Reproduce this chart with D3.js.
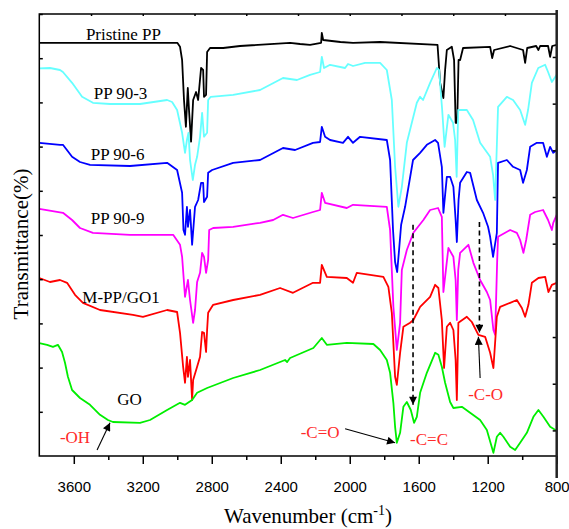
<!DOCTYPE html>
<html>
<head>
<meta charset="utf-8">
<script src="https://cdn.jsdelivr.net/npm/d3@7"></script>
<style>
  body { margin: 0; background: #fff; }
  svg { display: block; }
</style>
</head>
<body>
<svg id="chart" width="569" height="529"></svg>
<script>
// axis ticks (wavenumber, cm-1)
const majorTicks = [3600, 3200, 2800, 2400, 2000, 1600, 1200, 800];
const minorTicks = [3400, 3000, 2600, 2200, 1800, 1400, 1000];
const topTicks = [3500, 3200, 2900, 2600, 2300, 2000, 1700, 1400, 1100];

// spectra: [wavenumber, transmittance (offset, a.u.)]
const pristinePP = [
  [3800,103.3],[3000,103.3],[2984,102.3],[2972,99],[2961,89],[2950,82.3],[2939,92],[2932,86.5],
  [2920,78.6],[2908,89],[2891,91],[2879,89],[2862,97],[2850,96.5],[2845,89.8],[2833,90.3],
  [2827,101],[2810,102],[2734,102],[2636,102.5],[2346,103.3],[2288,103],[2230,102.8],[2166,103.3],
  [2162,105.8],[2154,104],[2054,103.5],[1981,103.3],[1824,103.5],[1491,102.8],[1476,93.3],[1457,89.5],
  [1447,96.5],[1437,101.5],[1408,102.3],[1395,99],[1386,83.3],[1377,83.3],[1369,99],[1360,99],
  [1343,102],[1186,102.3],[1174,99.5],[1163,101.5],[1070,102.5],[995,101.5],[983,98.3],[971,102],
  [919,102.5],[906,101.5],[896,102.5],[850,102.5],[838,99.8],[826,102.5],[800,102.8]
];
const pp903 = [
  [3800,96.9],[3738,97],[3680,96.5],[3663,96],[3610,93.3],[3552,89.8],[3489,88.3],[3390,88],
  [3216,88],[3059,89],[3030,88.5],[3001,86.5],[2972,80.8],[2955,75.8],[2944,79],[2935,80.8],
  [2926,74],[2910,69],[2897,72.8],[2885,74.8],[2868,79.8],[2856,85.8],[2845,79.8],[2827,80.8],
  [2821,89],[2806,89.8],[2676,90.3],[2520,91.5],[2387,94.5],[2306,94],[2230,95.3],[2172,96],
  [2162,99.8],[2149,97],[2114,97.8],[2027,97],[2010,98],[1981,97.5],[1911,98.3],[1824,98.3],
  [1785,96.5],[1756,89],[1737,72.3],[1718,62.3],[1698,67.3],[1669,78.3],[1611,88.3],[1592,89.8],
  [1575,89],[1534,93.3],[1495,97],[1482,96.5],[1464,86.5],[1450,77.3],[1428,85.3],[1401,83.3],
  [1389,79],[1380,69.8],[1371,86.5],[1321,86.5],[1285,84],[1244,78.3],[1186,74.8],[1169,70.3],
  [1157,64],[1140,87.3],[1089,89.8],[1053,89],[1012,86.5],[983,82.8],[966,86.5],[944,93.3],
  [907,97],[867,97.8],[850,96],[828,93.5],[800,95.3]
];
const pp906 = [
  [3800,78.3],[3680,77.8],[3663,77.8],[3610,74.8],[3564,73.5],[3506,72.8],[3274,72.5],[3059,73.3],
  [3001,71.5],[2972,65.8],[2964,56.5],[2955,55.3],[2944,62.3],[2938,57.3],[2926,61.5],[2914,52.8],
  [2897,62.3],[2879,64],[2862,68.3],[2850,68.3],[2845,63.5],[2827,64.8],[2821,70.8],[2798,71.5],
  [2676,73.3],[2520,74],[2387,77],[2317,76.5],[2213,78.3],[2172,78.5],[2162,82.3],[2143,79.8],
  [2114,79],[2039,78.3],[2010,79.8],[1981,78.3],[1940,79.8],[1785,79],[1766,74],[1749,56.5],
  [1737,48.5],[1725,46],[1714,51.5],[1702,57.8],[1679,62.3],[1633,74],[1592,75.8],[1553,77.8],
  [1505,79],[1488,78.3],[1466,72.3],[1457,60.8],[1437,69.8],[1418,69.8],[1399,67.3],[1386,59],
  [1379,53.5],[1369,64],[1360,68.3],[1321,71],[1302,70.8],[1263,64],[1227,60.8],[1198,57.3],
  [1186,54.8],[1169,49.8],[1147,55.8],[1140,73.3],[1089,74],[1053,72.3],[1012,71.5],[995,68.3],
  [973,71.5],[954,77.3],[915,78.3],[879,78.3],[857,74.8],[838,77.3],[820,75.8],[800,76.5]
];
const pp909 = [
  [3800,61.8],[3663,60.8],[3610,59],[3564,57],[3489,55.8],[3274,55.3],[3024,55.3],[2984,52.8],
  [2972,49.8],[2955,39.8],[2938,44],[2926,39],[2908,33.3],[2897,36.5],[2885,43.5],[2868,45.8],
  [2856,50.8],[2845,49.8],[2833,45.8],[2821,49],[2815,56.5],[2792,57],[2676,57.3],[2520,58.3],
  [2444,59],[2387,60.3],[2329,59.5],[2213,61],[2172,61.5],[2162,65.8],[2143,63.3],[2017,62],
  [1981,62.8],[1785,62.3],[1766,56.5],[1747,37.3],[1727,26.5],[1708,33.3],[1698,46.5],[1669,51.5],
  [1631,55.8],[1573,59],[1534,61.5],[1488,62],[1466,59.8],[1457,41],[1428,52],[1399,49.8],
  [1386,44],[1379,34],[1371,46.5],[1360,50.8],[1312,52.8],[1283,48.3],[1244,44],[1205,41],
  [1186,39],[1167,31.5],[1157,30.3],[1145,49],[1140,54.8],[1070,56.5],[1031,55.8],[1012,54],
  [993,50.8],[977,54],[954,60.3],[925,61],[879,61.5],[850,59],[828,56.5],[820,58.3],[800,60.3]
];
const mppGO1 = [
  [3800,44.5],[3738,43.5],[3680,44],[3639,43.3],[3593,40.3],[3547,38.3],[3448,36.5],[3257,35.3],
  [3199,34.8],[3059,36.5],[3001,36],[2984,30.8],[2966,22.3],[2955,18.3],[2944,24.8],[2938,19.8],
  [2926,24],[2914,14],[2908,19],[2885,22.3],[2868,24.8],[2856,31],[2845,30.8],[2833,26],
  [2827,31.5],[2821,35.8],[2792,37.8],[2676,39],[2520,40.3],[2404,42],[2329,40.8],[2213,43.3],
  [2172,43.3],[2162,47.8],[2133,44.8],[2017,44.5],[1981,43.3],[1959,45.8],[1805,44.8],[1776,42.3],
  [1756,35.8],[1737,19.8],[1727,17.8],[1708,25.8],[1689,32.3],[1650,33.3],[1631,34],[1592,37.3],
  [1534,39.8],[1505,42.8],[1486,42],[1466,34],[1453,22],[1437,32.3],[1418,33.3],[1399,31.5],
  [1386,24],[1379,14],[1370,33.3],[1321,34.8],[1292,33.5],[1254,30.3],[1215,29.8],[1186,25.8],
  [1167,22],[1147,34.8],[1128,37.3],[1070,38.3],[1031,39],[1002,37],[983,34.8],[964,37.8],
  [944,43.3],[906,44.5],[867,44.8],[848,41],[828,42.8],[800,43.3]
];
const go = [
  [3800,28.2],[3755,27.8],[3721,27.3],[3692,27.8],[3668,26],[3651,23.3],[3634,19.8],[3610,16.5],
  [3564,14.5],[3506,12.8],[3448,10.3],[3402,9],[3373,8.5],[3216,8.3],[3158,9],[3059,11.5],
  [2984,13.3],[2955,12.8],[2938,13.3],[2914,14],[2885,15.8],[2827,17],[2676,19.5],[2520,21.5],
  [2404,23.5],[2375,24],[2363,23.5],[2346,24.5],[2211,27],[2162,29.5],[2133,27.8],[2017,28.3],
  [1863,28],[1824,26.5],[1785,24],[1766,20.8],[1747,13.3],[1737,7.3],[1727,3.3],[1708,5.8],
  [1689,12.3],[1669,13.5],[1646,11.5],[1627,8.3],[1611,9.8],[1592,15.8],[1553,20.8],[1505,25.8],
  [1486,25.3],[1466,22.3],[1447,18.3],[1418,13.5],[1399,12],[1350,12.3],[1302,10.8],[1244,9],
  [1205,6.5],[1167,0.8],[1147,4.8],[1128,5.8],[1109,4.8],[1070,2.3],[1041,1.5],[1012,3.3],
  [973,5.8],[935,9.8],[906,11.5],[877,9.8],[838,7.3],[800,6.3]
];

const seriesNames = ["Pristine PP", "PP 90-3", "PP 90-6", "PP 90-9", "M-PP/GO1", "GO"];
const seriesData = [pristinePP, pp903, pp906, pp909, mppGO1, go];
const seriesColors = ["#000000", "#66ffff", "#0000ff", "#ff00ff", "#ff0000", "#00ee00"];
// label anchor [wavenumber, value] for each series name
const seriesLabelAt = [[3312,104], [3329,89.3], [3346,74], [3346,58], [3326,38.3], [3277,12.8]];

// peak assignments
const peakLabels = ["-OH", "-C=O", "-C=C", "-C-O"];
const peakLabelAt = [[3593,3.3], [2172,4.5], [1540,2.8], [1212,14]];
const solidArrows = [[[3465,1.5],[3390,8.3]], [[2027,6.8],[1737,3.3]], [[1244,19.5],[1254,29.8]]];
const dashedArrows = [[[1633,57.8],[1633,12.8]], [[1248,58.5],[1248,30.8]]];

const svg = d3.select("#chart");
const mLeft = 39.3, mRight = 556.7, mTop = 14, mBottom = 456;

const x = d3.scaleLinear().domain([3800, 800]).range([mLeft, mRight]);
const y = d3.scaleLinear().domain([0, 110.5]).range([mBottom, mTop]);

const defs = svg.append("defs");
defs.append("marker")
  .attr("id", "head")
  .attr("viewBox", "0 0 10 10")
  .attr("refX", 10).attr("refY", 5)
  .attr("markerUnits", "userSpaceOnUse")
  .attr("markerWidth", 10).attr("markerHeight", 8)
  .attr("orient", "auto")
  .append("path").attr("d", "M0,0 L10,5 L0,10 z").attr("fill", "#000");

defs.append("clipPath").attr("id", "plot-clip")
  .append("rect").attr("x", mLeft).attr("y", mTop).attr("width", mRight - mLeft).attr("height", mBottom - mTop);

// spectra
const line = d3.line().x(d => x(d[0])).y(d => y(d[1]));
svg.append("g").attr("clip-path", "url(#plot-clip)")
  .selectAll("path").data(seriesData).join("path")
  .attr("d", line)
  .attr("fill", "none")
  .attr("stroke", (d, i) => seriesColors[i])
  .attr("stroke-width", 1.8)
  .attr("stroke-linejoin", "round");

// axes
const fmt = d3.format("d");
const gx = svg.append("g").attr("transform", `translate(0,${mBottom})`)
  .call(d3.axisBottom(x).tickValues(majorTicks).tickSize(8).tickPadding(17).tickFormat(fmt));
gx.selectAll("text").attr("font-family", "'Liberation Sans', Arial, sans-serif").attr("font-size", 15).attr("fill", "#000");
svg.append("g").attr("transform", `translate(0,${mBottom})`)
  .call(d3.axisBottom(x).tickValues(minorTicks).tickSize(4).tickFormat(""));
svg.append("g").attr("transform", `translate(0,${mTop})`)
  .call(d3.axisTop(x).tickValues(topTicks).tickSize(-2).tickFormat(""));
svg.append("g").attr("transform", `translate(${mLeft},0)`)
  .call(d3.axisLeft(y).tickValues(d3.range(1, 11).map(k => k * 11.05)).tickSize(-3.5).tickFormat(""));
svg.append("g").attr("transform", `translate(${mRight},0)`)
  .call(d3.axisRight(y).tickValues(d3.range(0, 9).map(k => 6.4 + k * 11.67)).tickSize(-4).tickFormat(""));
svg.selectAll(".domain").remove();
svg.selectAll(".tick line").attr("stroke", "#000").attr("stroke-width", 1.5);

// frame
svg.append("path")
  .attr("d", `M${mRight},${mTop}H${mLeft}V${mBottom}H${mRight}`)
  .attr("fill", "none").attr("stroke", "#000").attr("stroke-width", 1.5);
svg.append("line")
  .attr("x1", mRight).attr("x2", mRight).attr("y1", mTop - 4).attr("y2", mBottom + 22)
  .attr("stroke", "#222").attr("stroke-width", 2.5);

// axis titles
const xt = svg.append("text")
  .attr("x", 308).attr("y", 523).attr("text-anchor", "middle")
  .attr("font-family", "'Liberation Serif', 'Times New Roman', serif").attr("font-size", 21);
xt.append("tspan").text("Wavenumber (cm");
xt.append("tspan").attr("dy", -8).attr("font-size", 14).text("-1");
xt.append("tspan").attr("dy", 8).text(")");

svg.append("text")
  .attr("transform", "translate(28,244) rotate(-90)")
  .attr("text-anchor", "middle")
  .attr("font-family", "'Liberation Serif', 'Times New Roman', serif").attr("font-size", 21)
  .text("Transmittance(%)");

// series labels
svg.append("g").selectAll("text").data(seriesNames).join("text")
  .attr("x", (d, i) => x(seriesLabelAt[i][0]))
  .attr("y", (d, i) => y(seriesLabelAt[i][1]))
  .attr("text-anchor", "middle")
  .attr("font-family", "'Liberation Serif', 'Times New Roman', serif").attr("font-size", 17)
  .text(d => d);

// peak labels
svg.append("g").selectAll("text").data(peakLabels).join("text")
  .attr("x", (d, i) => x(peakLabelAt[i][0]))
  .attr("y", (d, i) => y(peakLabelAt[i][1]))
  .attr("text-anchor", "middle")
  .attr("fill", "#ff2a2a")
  .attr("font-family", "'Liberation Serif', 'Times New Roman', serif").attr("font-size", 17)
  .text(d => d);

// arrows
svg.append("g").selectAll("line").data(solidArrows).join("line")
  .attr("x1", d => x(d[0][0])).attr("y1", d => y(d[0][1]))
  .attr("x2", d => x(d[1][0])).attr("y2", d => y(d[1][1]))
  .attr("stroke", "#000").attr("stroke-width", 1.1)
  .attr("marker-end", "url(#head)");
svg.append("g").selectAll("line").data(dashedArrows).join("line")
  .attr("x1", d => x(d[0][0])).attr("y1", d => y(d[0][1]))
  .attr("x2", d => x(d[1][0])).attr("y2", d => y(d[1][1]))
  .attr("stroke", "#000").attr("stroke-width", 1.6)
  .attr("stroke-dasharray", "5,3.5")
  .attr("marker-end", "url(#head)");
</script>
</body>
</html>
